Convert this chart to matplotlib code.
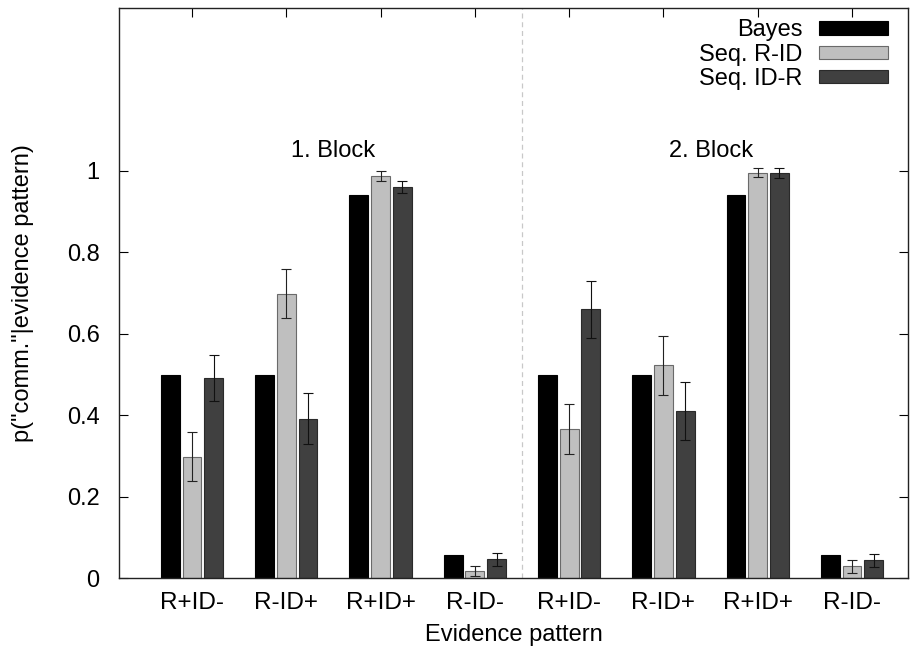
import matplotlib
matplotlib.use("Agg")
import matplotlib.pyplot as plt
import numpy as np

plt.rcParams['font.family'] = ['Liberation Sans', 'DejaVu Sans']

categories = ["R+ID-", "R-ID+", "R+ID+", "R-ID-", "R+ID-", "R-ID+", "R+ID+", "R-ID-"]
series_names = ["Bayes", "Seq. R-ID", "Seq. ID-R"]
bayes = [0.50, 0.50, 0.94, 0.058, 0.50, 0.50, 0.94, 0.058]
seq_rid = [0.298, 0.699, 0.988, 0.018, 0.367, 0.523, 0.996, 0.029]
seq_rid_err = [0.060, 0.060, 0.013, 0.013, 0.062, 0.072, 0.010, 0.015]
seq_idr = [0.492, 0.392, 0.961, 0.047, 0.660, 0.411, 0.994, 0.044]
seq_idr_err = [0.056, 0.062, 0.015, 0.016, 0.071, 0.072, 0.012, 0.016]
block_labels = ["1. Block", "2. Block"]
yticks = [0, 0.2, 0.4, 0.6, 0.8, 1]

FS = 17

fig = plt.figure(figsize=(9.1, 6.6), dpi=100)
ax = fig.add_axes([0.1308, 0.1238, 0.8670, 0.8641])

x = np.arange(1, len(categories) + 1)
w = 0.2
off = 0.23

ax.bar(x - off, bayes, w, color='black', edgecolor='black', linewidth=0.8,
       label=series_names[0], zorder=2)
ax.bar(x, seq_rid, w, color='#bfbfbf', edgecolor='#6a6a6a', linewidth=0.8,
       label=series_names[1], zorder=2)
ax.bar(x + off, seq_idr, w, color='#404040', edgecolor='#2a2a2a', linewidth=0.8,
       label=series_names[2], zorder=2)
ax.errorbar(x, seq_rid, yerr=seq_rid_err, fmt='none', ecolor='#222222',
            elinewidth=0.8, capsize=3.6, capthick=0.8, zorder=3)
ax.errorbar(x + off, seq_idr, yerr=seq_idr_err, fmt='none', ecolor='#111111',
            elinewidth=0.8, capsize=3.6, capthick=0.8, zorder=3)

ax.axvline(4.5, color='#c8c8c8', linestyle=(0, (4, 3)), linewidth=0.9, zorder=1)

ax.text(2.5, 1.05, block_labels[0], ha='center', va='center', fontsize=FS)
ax.text(6.5, 1.05, block_labels[1], ha='center', va='center', fontsize=FS)

ax.set_xlim(0.226, 8.594)
ax.set_ylim(0, 1.4)
ax.set_xticks(x)
ax.set_xticklabels(categories, fontsize=FS + 0.5)
ax.set_yticks(yticks)
ax.set_yticklabels(["0", "0.2", "0.4", "0.6", "0.8", "1"], fontsize=FS)
ax.tick_params(axis='x', direction='in', length=6.5, width=0.8, top=True, pad=10)
ax.tick_params(axis='y', direction='in', length=6.5, width=0.8, right=True, pad=14)
for s in ax.spines.values():
    s.set_linewidth(1.0)
    s.set_color('#222222')

ax.set_xlabel("Evidence pattern", fontsize=FS, labelpad=7)
ax.set_ylabel('p("comm."|evidence pattern)', fontsize=FS)
ax.yaxis.set_label_coords(-0.108, 0.5)

leg = ax.legend(loc='upper right', bbox_to_anchor=(0.9975, 1.011),
                markerfirst=False, frameon=False, fontsize=FS,
                handlelength=2.95, handleheight=0.5, handletextpad=0.7,
                labelspacing=0.1, borderaxespad=0.55, borderpad=0.2)
for t in leg.get_texts():
    t.set_ha('right')

fig.savefig("out.png", dpi=100)
